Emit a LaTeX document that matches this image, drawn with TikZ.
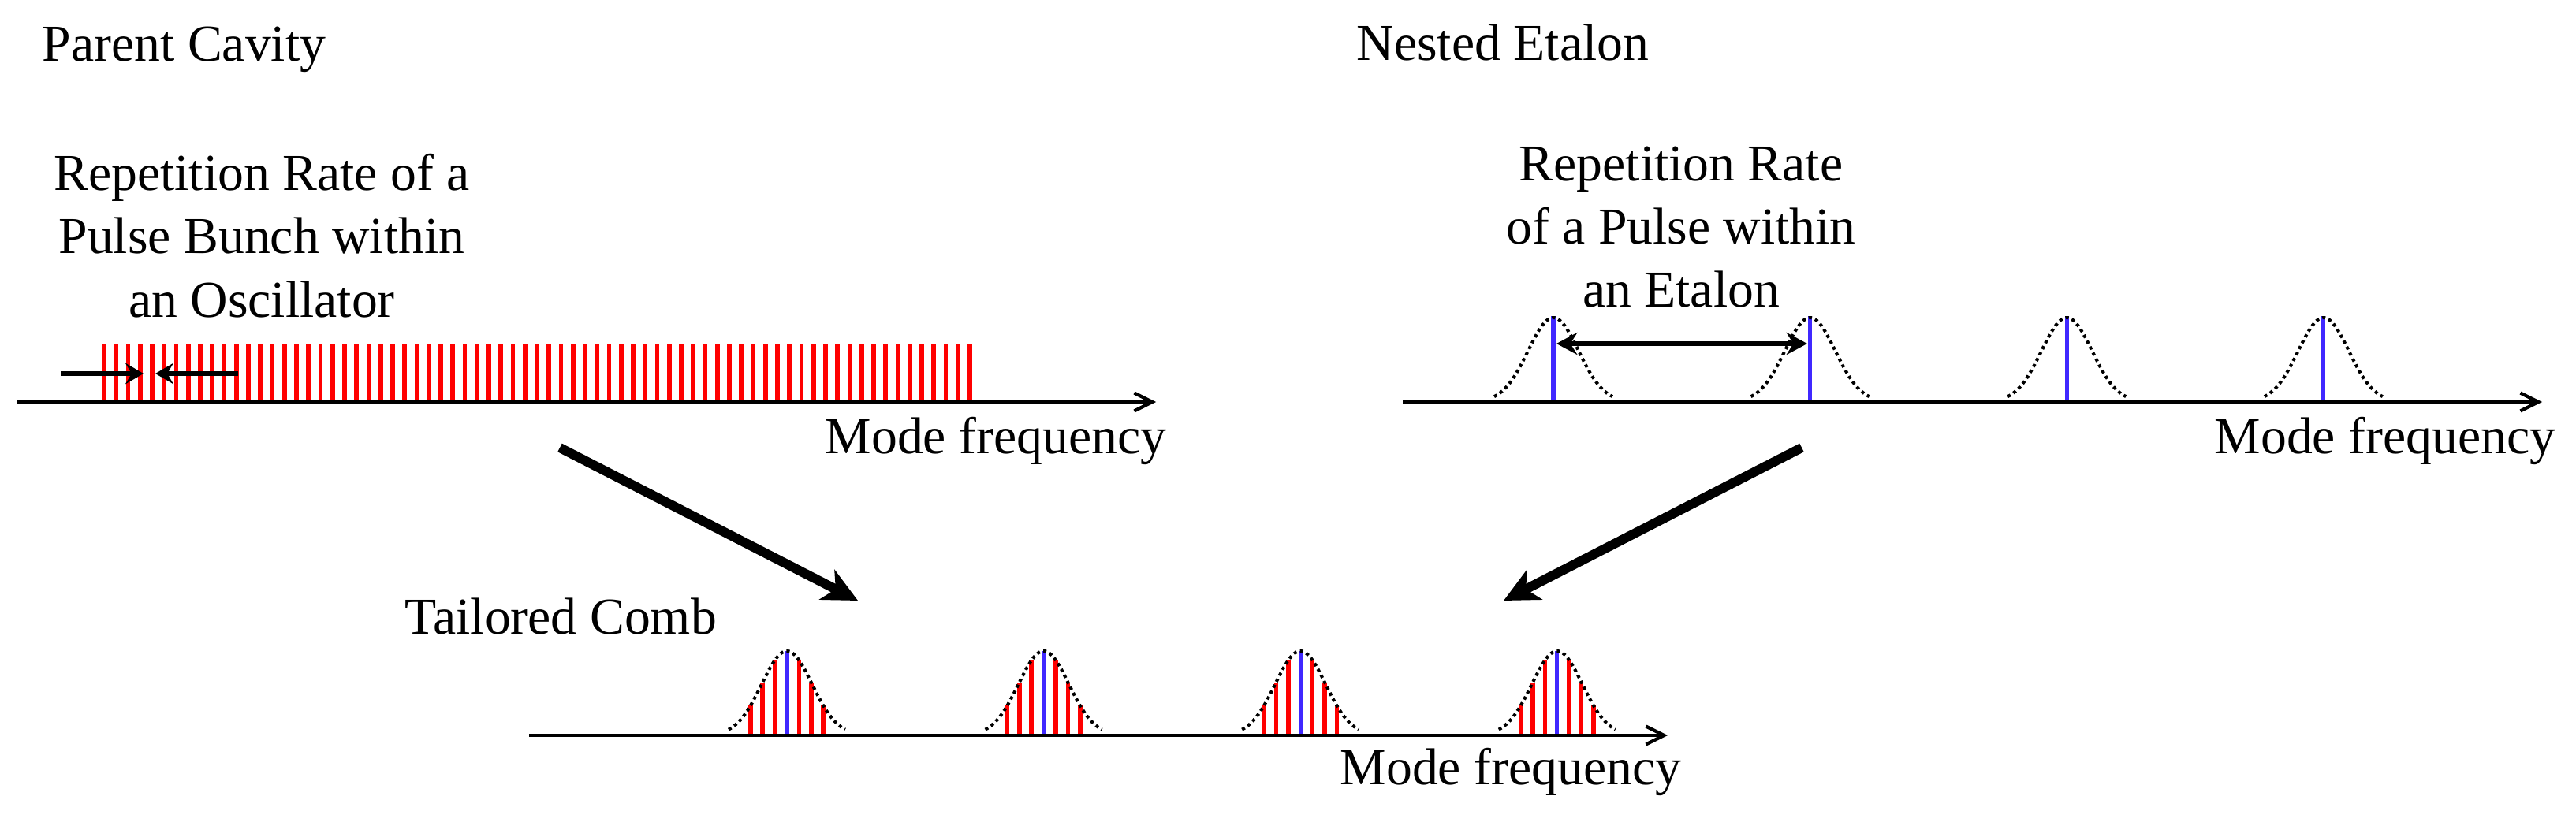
\documentclass[tikz,border=0pt]{standalone}
\usepackage{fontspec}
\setmainfont{Liberation Serif}
\usetikzlibrary{arrows.meta}
\begin{document}
\begin{tikzpicture}[
  txt/.style = {font = \fontsize{18.7}{22.8}\selectfont, inner sep = 0pt},
  freqaxis/.style = {line width = 1.2pt, -{Straight Barb[length = 6.5pt, width = 6.5pt]}},
  cavityline/.style = {draw = red, line width = 1.6pt},
  etalonline/.style = {draw = modeblue, line width = 1.45pt},
  envelope/.style = {draw = black, line width = 1.15pt, dash pattern = on 1.15pt off 1.25pt},
  repgap/.style = {line width = 1.7pt, -{Stealth[length = 6.5pt, width = 7.5pt, inset = 2.2pt]}},
  repspan/.style = {line width = 1.7pt, {Stealth[length = 7.5pt, width = 8pt, inset = 2.5pt]}-{Stealth[length = 7.5pt, width = 8pt, inset = 2.5pt]}},
  bigarrow/.style = {line width = 3.4pt, -{Stealth[length = 12.5pt, width = 12pt, inset = 3.5pt]}}
]
\definecolor{modeblue}{RGB}{64,40,255}
\useasboundingbox (0,0) rectangle (32.67,10.47);
\pgfmathsetmacro\pitch{0.1525}
\pgfmathsetmacro\fsr{3.256}
\pgfmathsetmacro\sig{0.32}
\pgfmathsetmacro\amp{1.07}
\node[txt, anchor = base west] (cavity) at (0.53,9.69) {Parent Cavity};
\node[txt, anchor = base west] (etalon) at (17.20,9.70) {Nested Etalon};
\node[txt, anchor = base, align = center] (cavityrate) at (3.32,6.45) {Repetition Rate of a\\Pulse Bunch within\\an Oscillator};
\node[txt, anchor = base, align = center] (etalonrate) at (21.32,6.57) {Repetition Rate\\of a Pulse within\\an Etalon};
\node[txt, anchor = base west] (tailored) at (5.13,2.43) {Tailored Comb};
\foreach \n in {0,...,72} \draw[cavityline] (1.32+\n*\pitch,5.37) -- ++(0,0.74);
\coordinate (cavstart) at (0.22,5.37);
\coordinate (cavend) at (14.66,5.37);
\draw[freqaxis] (cavstart) -- (cavend);
\node[txt, anchor = base east] (cavfreq) at (14.80,4.72) {Mode frequency};
\coordinate (gapleft) at (0.77,5.73);
\coordinate (gapleftin) at (1.82,5.73);
\coordinate (gapright) at (3.02,5.73);
\coordinate (gaprightin) at (1.97,5.73);
\draw[repgap] (gapleft) -- (gapleftin);
\draw[repgap] (gapright) -- (gaprightin);
\foreach \n in {0,...,3} {
  \draw[etalonline] (19.70+\n*\fsr,5.37) -- ++(0,1.09);
  \draw[envelope] plot[domain = -0.75:0.75, samples = 60] ({19.70+\n*\fsr+\x},{5.37+\amp*exp(-((\x)*(\x))/(2*\sig*\sig))});
}
\coordinate (etstart) at (17.79,5.37);
\coordinate (etend) at (32.24,5.37);
\draw[freqaxis] (etstart) -- (etend);
\node[txt, anchor = base east] (etfreq) at (32.42,4.72) {Mode frequency};
\coordinate (peakone) at (19.74,6.11);
\coordinate (peaktwo) at (22.92,6.11);
\draw[repspan] (peakone) -- (peaktwo);
\foreach \n in {0,...,3} {
  \pgfmathsetmacro\c{9.98+\n*\fsr}
  \foreach \k in {-3,-2,-1,1,2,3} \draw[cavityline] (\c+\k*0.154,1.14) -- ++(0,{\amp*exp(-((\k*0.154)*(\k*0.154))/(2*\sig*\sig))});
  \draw[etalonline] (\c,1.14) -- ++(0,\amp);
  \draw[envelope] plot[domain = -0.74:0.74, samples = 60] ({\c+\x},{1.14+\amp*exp(-((\x)*(\x))/(2*\sig*\sig))});
}
\coordinate (combstart) at (6.71,1.14);
\coordinate (combend) at (21.15,1.14);
\draw[freqaxis] (combstart) -- (combend);
\node[txt, anchor = base east] (combfreq) at (21.33,0.52) {Mode frequency};
\coordinate (cavityout) at (7.10,4.79);
\coordinate (combleft) at (10.88,2.85);
\coordinate (etalonout) at (22.85,4.79);
\coordinate (combright) at (19.07,2.85);
\draw[bigarrow] (cavityout) -- (combleft);
\draw[bigarrow] (etalonout) -- (combright);
\end{tikzpicture}
\end{document}
